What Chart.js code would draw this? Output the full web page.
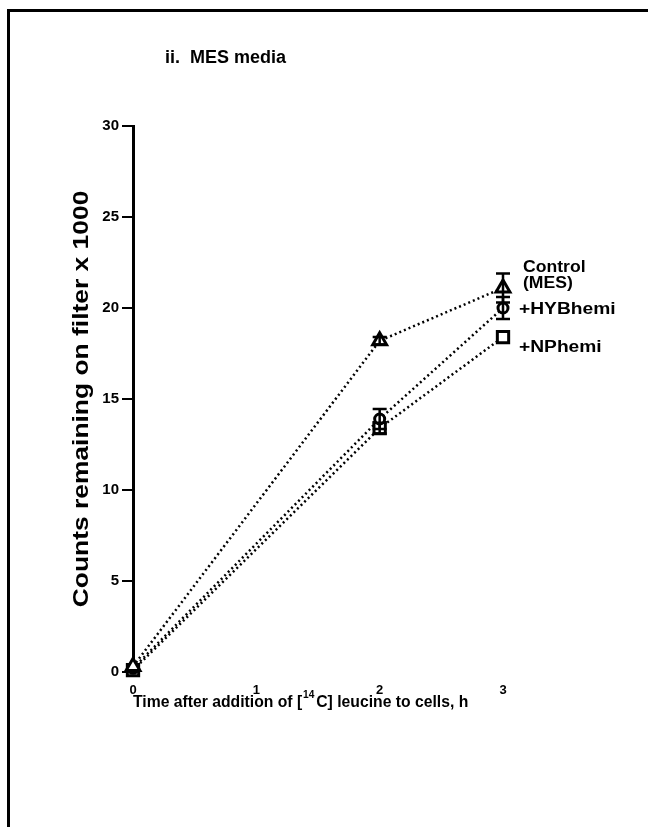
<!DOCTYPE html>
<html>
<head>
<meta charset="utf-8">
<script src="https://cdn.jsdelivr.net/npm/chart.js@4.4.1/dist/chart.umd.min.js"></script>
<style>
  html, body { margin: 0; padding: 0; background: #fff; }
  #wrap { position: relative; width: 648px; height: 827px; }
  #frame { position: absolute; left: 7px; top: 9px; right: 0; bottom: 0;
           border-top: 3px solid #000; border-left: 3px solid #000; pointer-events: none; }
</style>
</head>
<body>
<div id="wrap">
  <canvas id="chart" width="648" height="827"></canvas>
  <div id="frame"></div>
</div>
<script>
var hours = [0, 2, 3];
var controlMES = [0.3, 18.2, 21.1];
var controlErr = [0, 0.2, 0.8];
var hybHemi = [0.2, 13.9, 20.0];
var hybErr = [0, 0.55, 0.6];
var npHemi = [0.1, 13.4, 18.4];
var npErr = [0, 0.3, 0];
var xTicks = [0, 1, 2, 3];
var yTicks = [0, 5, 10, 15, 20, 25, 30];

var FONT = '"Liberation Sans", Arial, sans-serif';

function pts(ys) {
    return hours.map(function(h, i) { return { x: h, y: ys[i] }; });
}

function series(label, ys, errs, style, size, tag) {
    return {
        label: label,
        data: pts(ys),
        errors: errs,
        tag: tag,
        borderColor: '#000',
        borderWidth: 2.5,
        borderDash: [2, 3],
        pointStyle: style,
        pointRadius: size,
        pointBorderWidth: 3,
        pointBackgroundColor: '#fff',
        pointBorderColor: '#000',
        fill: false,
        tension: 0,
        clip: false
    };
}

// draw text stretched horizontally (scanned font is wider)
function wideText(ctx, txt, x, y, sx) {
    ctx.save();
    ctx.translate(x, y);
    ctx.scale(sx, 1);
    ctx.fillText(txt, 0, 0);
    ctx.restore();
}

var extras = {
    id: 'extras',
    afterDatasetsDraw: function(chart) {
        var ctx = chart.ctx;
        var xs = chart.scales.x, ys = chart.scales.y;
        ctx.save();
        ctx.strokeStyle = '#000';
        ctx.fillStyle = '#000';
        ctx.lineWidth = 2.5;
        chart.data.datasets.forEach(function(ds) {
            ds.data.forEach(function(p, i) {
                var e = ds.errors[i];
                if (!e) return;
                var px = xs.getPixelForValue(p.x);
                var top = ys.getPixelForValue(p.y + e);
                var bot = ys.getPixelForValue(p.y - e);
                ctx.beginPath();
                ctx.moveTo(px, top); ctx.lineTo(px, bot);
                ctx.moveTo(px - 7, top); ctx.lineTo(px + 7, top);
                ctx.moveTo(px - 7, bot); ctx.lineTo(px + 7, bot);
                ctx.stroke();
            });
            var last = ds.data[ds.data.length - 1];
            var lx = xs.getPixelForValue(last.x) + 16;
            var ly = ys.getPixelForValue(last.y);
            ctx.font = 'bold 16px ' + FONT;
            ctx.textAlign = 'left';
            ctx.textBaseline = 'middle';
            if (ds.tag === 'ctrl') {
                wideText(ctx, 'Control', lx + 4, ly - 20, 1.1);
                wideText(ctx, '(MES)', lx + 4, ly - 4, 1.1);
            } else if (ds.tag === 'hyb') {
                wideText(ctx, '+HYBhemi', lx, ly + 2, 1.2);
            } else {
                wideText(ctx, '+NPhemi', lx, ly + 10, 1.2);
            }
        });

        // panel title
        ctx.font = 'bold 18px ' + FONT;
        ctx.textAlign = 'left';
        ctx.textBaseline = 'middle';
        ctx.fillText('ii.  MES media', 165, 58);

        // y axis title
        ctx.save();
        ctx.translate(82, (ys.top + ys.bottom) / 2);
        ctx.rotate(-Math.PI / 2);
        ctx.scale(1.2, 1);
        ctx.font = 'bold 22px ' + FONT;
        ctx.textAlign = 'center';
        ctx.fillText('Counts remaining on filter x 1000', 0, 0);
        ctx.restore();

        // x axis title with superscript
        var x0 = xs.getPixelForValue(0), yT = 702;
        ctx.font = 'bold 17px ' + FONT;
        ctx.textAlign = 'left';
        var a = 'Time after addition of [', s = '14', b = 'C] leucine to cells, h';
        var sc = 336 / (ctx.measureText(a + b).width + 16);
        ctx.save();
        ctx.translate(x0, yT);
        ctx.scale(sc, 1);
        ctx.fillText(a, 0, 0);
        var w = ctx.measureText(a).width;
        ctx.font = 'bold 11px ' + FONT;
        ctx.fillText(s, w + 1, -7);
        var ws = ctx.measureText(s).width;
        ctx.font = 'bold 17px ' + FONT;
        ctx.fillText(b, w + ws + 3, 0);
        ctx.restore();
        ctx.restore();
    }
};

new Chart(document.getElementById('chart').getContext('2d'), {
    type: 'line',
    data: {
        datasets: [
            series('Control (MES)', controlMES, controlErr, 'triangle', 8, 'ctrl'),
            series('+HYBhemi', hybHemi, hybErr, 'circle', 5, 'hyb'),
            series('+NPhemi', npHemi, npErr, 'rect', 8, 'np')
        ]
    },
    options: {
        responsive: false,
        animation: false,
        layout: { padding: { left: 0, top: 126, right: 145, bottom: 0 } },
        plugins: { legend: { display: false }, tooltip: { enabled: false } },
        scales: {
            x: {
                type: 'linear',
                min: 0, max: 3,
                afterFit: function(s) { s.height = 155; },
                afterBuildTicks: function(s) { s.ticks = xTicks.map(function(v) { return { value: v }; }); },
                border: { display: false },
                grid: { display: false },
                ticks: { color: '#000', padding: 3, font: { family: FONT, weight: 'bold', size: 13 } }
            },
            y: {
                type: 'linear',
                min: 0, max: 30,
                afterFit: function(s) { s.width = 133; },
                afterBuildTicks: function(s) { s.ticks = yTicks.map(function(v) { return { value: v }; }); },
                border: { display: true, color: '#000', width: 3 },
                grid: { drawOnChartArea: false, color: '#000', lineWidth: 2, tickLength: 11 },
                ticks: { color: '#000', padding: 3, font: { family: FONT, weight: 'bold', size: 15 } }
            }
        }
    },
    plugins: [extras]
});
</script>
</body>
</html>
